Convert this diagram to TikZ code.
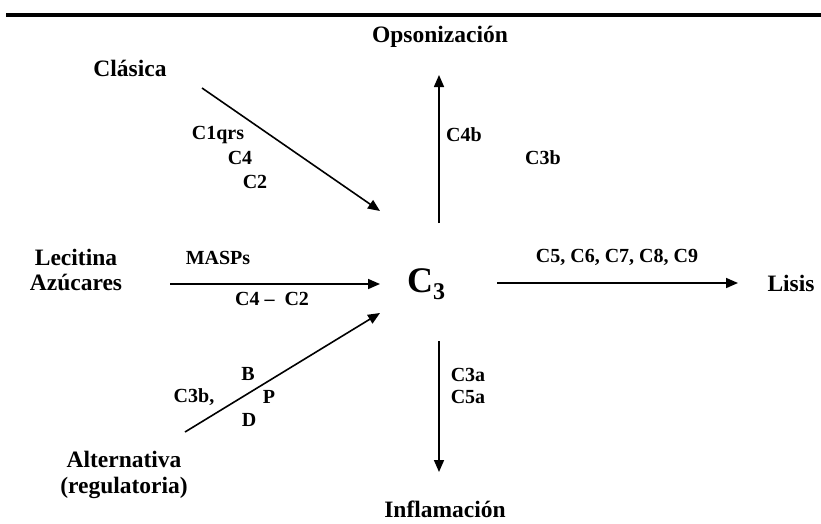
\documentclass[tikz,border=0pt]{standalone}
\usepackage{fontspec}
\setmainfont{Liberation Serif}
\usetikzlibrary{arrows.meta}
\tikzset{
  lab/.style={font=\fontsize{23.5}{26}\selectfont\bfseries, inner sep=0pt, align=center},
  sm/.style={font=\fontsize{20}{21}\selectfont\bfseries, inner sep=0pt},
  arr/.style={line width=1.6pt, -{Triangle[length=12pt,width=10pt]}},
  rule/.style={line width=4pt}
}
\begin{document}
\begin{tikzpicture}[x=1pt,y=-1pt]
\useasboundingbox (0,0) rectangle (821,523);
\coordinate (r1) at (6,15);
\coordinate (r2) at (821,15);
\draw[rule] (r1) -- (r2);

\node[lab] (opson) at (440,37) {Opsonización};
\node[lab] (clasica) at (130,68) {Clásica};
\node[lab, font=\fontsize{23.5}{25}\selectfont\bfseries] (lec) at (76,270) {Lecitina\\Azúcares};
\node[lab] (lisis) at (791,283) {Lisis};
\node[lab, font=\fontsize{23.5}{25.5}\selectfont\bfseries] (alt) at (124,475) {Alternativa\\(regulatoria)};
\node[lab] (infl) at (445,509) {Inflamación};
\node[inner sep=0pt] (c3) at (426,284) {{\fontsize{36}{36}\selectfont\bfseries C}\raisebox{-7pt}{\fontsize{24}{24}\selectfont\bfseries 3}};

% arrow endpoints
\coordinate (a1s) at (202,88);
\coordinate (a1e) at (380,211);
\coordinate (a2s) at (170,284);
\coordinate (a2e) at (380,284);
\coordinate (a3s) at (185,432);
\coordinate (a3e) at (380,313);
\coordinate (a4s) at (439,223);
\coordinate (a4e) at (439,75);
\coordinate (a5s) at (439,341);
\coordinate (a5e) at (439,472);
\coordinate (a6s) at (497,283);
\coordinate (a6e) at (738,283);

\draw[arr] (a1s) -- (a1e);
\draw[arr] (a2s) -- (a2e);
\draw[arr] (a3s) -- (a3e);
\draw[arr] (a4s) -- (a4e);
\draw[arr] (a5s) -- (a5e);
\draw[arr] (a6s) -- (a6e);

\node[sm] (c1qrs) at (218,135) {C1qrs};
\node[sm] (c4a) at (240,158) {C4};
\node[sm] (c2a) at (255,182) {C2};
\node[sm] (masps) at (218,258) {MASPs};
\node[sm] (c4c2) at (272,299) {C4 –\ \ C2};
\node[sm] (b) at (248,374) {B};
\node[sm] (c3bc) at (194,397) {C3b,};
\node[sm] (p) at (269,397) {P};
\node[sm] (d) at (249,420) {D};
\node[sm] (c4b) at (464,135) {C4b};
\node[sm] (c3b) at (543,158) {C3b};
\node[sm] (c3a) at (468,375) {C3a};
\node[sm] (c5a) at (468,397) {C5a};
\node[sm] (c59) at (617,257) {C5, C6, C7, C8, C9};
\end{tikzpicture}
\end{document}
